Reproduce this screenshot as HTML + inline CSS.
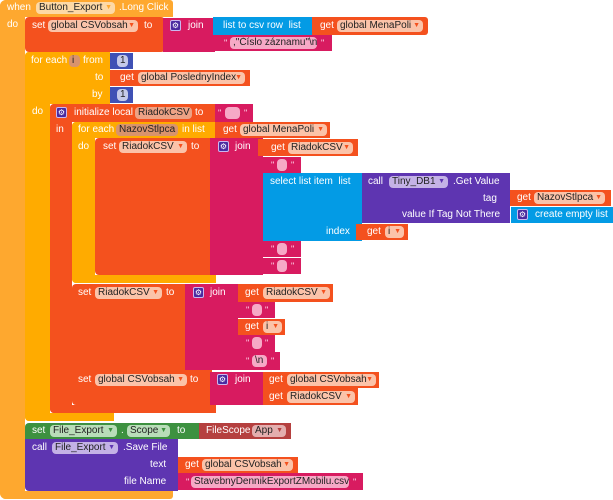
<!DOCTYPE html>
<html><head><meta charset="utf-8">
<style>
body{margin:0;width:613px;height:500px;background:#fff;position:relative;overflow:hidden;font-family:"Liberation Sans",Arial,sans-serif}
.b{position:absolute}
.t{position:absolute;color:#fff;font-size:10px;line-height:12px;white-space:nowrap}
.f{position:absolute;height:12px;border-radius:4px;color:#222;font-size:10px;line-height:12px;white-space:nowrap;box-sizing:border-box;padding-left:3px;overflow:hidden}
.v{background:#FBC3A9}
.a{position:absolute;right:3px;top:0;font-size:7px;line-height:12px}
.g{position:absolute;width:11px;height:11px;background:#4a2aa0;border:1px solid #c9b8f0;border-radius:2px;box-sizing:border-box;color:#fff;font-size:8px;line-height:9px;text-align:center}
.q{position:absolute;color:#fde;font-size:9px;line-height:10px}
.tf{background:#F6A9C6}
.EV{background:#FEA82F}
.CT{background:#FFAB00}
.VR{background:#F4511E}
.TX{background:#D81B60}
.LS{background:#039BE5}
.PU{background:#5E35B1}
.NU{background:#3F51B5}
</style></head><body>

<!-- when block -->
<div class="b EV" style="left:0;top:0;width:173px;height:17px;border-radius:6px 3px 0 0"></div>
<div class="b EV" style="left:0;top:0;width:25px;height:499px;border-radius:6px 0 0 6px"></div>
<div class="b EV" style="left:0;top:491px;width:173px;height:8px;border-radius:0 0 3px 6px"></div>

<!-- set global CSVobsah -->
<div class="b VR" style="left:25px;top:17px;width:140px;height:35px;border-radius:4px"></div>
<div class="b TX" style="left:163px;top:18px;width:52px;height:34px"></div>
<div class="b LS" style="left:213px;top:17px;width:99px;height:18px"></div>
<div class="b VR" style="left:312px;top:17px;width:116px;height:18px;border-radius:0 3px 3px 0"></div>
<div class="b TX" style="left:213px;top:35px;width:119px;height:16px"></div>

<!-- for each i -->
<div class="b CT" style="left:25px;top:52px;width:85px;height:52px;border-radius:4px 0 0 0"></div>
<div class="b CT" style="left:25px;top:52px;width:25px;height:369px;border-radius:4px 0 0 4px"></div>
<div class="b CT" style="left:25px;top:413px;width:89px;height:8px;border-radius:0 0 0 4px"></div>
<div class="b NU" style="left:110px;top:53px;width:23px;height:16px"></div>
<div class="b VR" style="left:110px;top:70px;width:140px;height:16px"></div>
<div class="b NU" style="left:110px;top:87px;width:23px;height:16px"></div>

<!-- initialize local -->
<div class="b VR" style="left:50px;top:104px;width:165px;height:18px;border-radius:4px 0 0 0"></div>
<div class="b VR" style="left:50px;top:104px;width:22px;height:309px;border-radius:4px 0 0 4px"></div>
<div class="b VR" style="left:50px;top:405px;width:166px;height:8px;border-radius:0 0 0 4px"></div>
<div class="b TX" style="left:215px;top:104px;width:38px;height:18px"></div>

<!-- for each NazovStlpca -->
<div class="b CT" style="left:72px;top:122px;width:143px;height:16px;border-radius:4px 0 0 0"></div>
<div class="b CT" style="left:72px;top:122px;width:23px;height:161px;border-radius:4px 0 0 4px"></div>
<div class="b CT" style="left:72px;top:275px;width:144px;height:8px;border-radius:0 0 0 4px"></div>
<div class="b VR" style="left:215px;top:122px;width:115px;height:16px"></div>

<!-- set RiadokCSV 1 -->
<div class="b VR" style="left:95px;top:138px;width:117px;height:137px;border-radius:4px 0 0 4px"></div>
<div class="b TX" style="left:210px;top:138px;width:53px;height:137px"></div>
<div class="b VR" style="left:258px;top:139px;width:100px;height:17px"></div>
<div class="b TX" style="left:263px;top:157px;width:38px;height:16px"></div>
<div class="b LS" style="left:263px;top:173px;width:99px;height:68px"></div>
<div class="b PU" style="left:362px;top:173px;width:148px;height:50px"></div>
<div class="b VR" style="left:510px;top:190px;width:101px;height:16px"></div>
<div class="b LS" style="left:511px;top:207px;width:102px;height:16px"></div>
<div class="b VR" style="left:356px;top:224px;width:52px;height:16px"></div>
<div class="b TX" style="left:263px;top:241px;width:38px;height:16px"></div>
<div class="b TX" style="left:263px;top:258px;width:38px;height:16px"></div>

<!-- set RiadokCSV 2 -->
<div class="b VR" style="left:72px;top:284px;width:115px;height:86px;border-radius:4px 0 0 0"></div>
<div class="b TX" style="left:185px;top:284px;width:53px;height:86px"></div>
<div class="b VR" style="left:238px;top:284px;width:95px;height:18px"></div>
<div class="b TX" style="left:238px;top:302px;width:37px;height:16px"></div>
<div class="b VR" style="left:238px;top:319px;width:47px;height:16px"></div>
<div class="b TX" style="left:238px;top:335px;width:37px;height:17px"></div>
<div class="b TX" style="left:238px;top:352px;width:42px;height:18px"></div>

<!-- set global CSVobsah 2 -->
<div class="b VR" style="left:72px;top:370px;width:140px;height:35px;border-radius:0 0 0 4px"></div>
<div class="b TX" style="left:210px;top:372px;width:53px;height:33px"></div>
<div class="b VR" style="left:263px;top:372px;width:116px;height:16px"></div>
<div class="b VR" style="left:263px;top:388px;width:95px;height:17px"></div>

<!-- File_Export -->
<div class="b" style="left:25px;top:423px;width:174px;height:16px;background:#3D9140;border-radius:4px 0 0 0"></div>
<div class="b" style="left:199px;top:423px;width:92px;height:16px;background:#B5403F"></div>
<div class="b PU" style="left:25px;top:439px;width:153px;height:52px;border-radius:0 0 0 4px"></div>
<div class="b VR" style="left:178px;top:457px;width:120px;height:16px"></div>
<div class="b TX" style="left:178px;top:473px;width:185px;height:17px"></div>

<!-- ===== labels ===== -->
<span class="t" style="left:7px;top:2px">when</span>
<div class="f" style="left:36px;top:2px;width:79px;background:#FDD9A6">Button_Export<span class="a" style="color:#FEA82F">▼</span></div>
<span class="t" style="left:119px;top:2px">.Long Click</span>
<span class="t" style="left:7px;top:19px">do</span>

<span class="t" style="left:32px;top:20px">set</span>
<div class="f v" style="left:48px;top:20px;width:90px">global CSVobsah<span class="a" style="color:#F4511E">▼</span></div>
<span class="t" style="left:144px;top:20px">to</span>
<div class="g" style="left:170px;top:20px">⚙</div>
<span class="t" style="left:188px;top:20px">join</span>
<span class="t" style="left:223px;top:20px">list to csv row&nbsp; list</span>
<span class="t" style="left:320px;top:20px">get</span>
<div class="f v" style="left:337px;top:20px;width:86px">global MenaPoli<span class="a" style="color:#F4511E">▼</span></div>
<span class="q" style="left:224px;top:38px">"</span>
<div class="f tf" style="left:230px;top:37px;width:87px">,"Číslo záznamu"\n</div>
<span class="q" style="left:321px;top:38px">"</span>

<span class="t" style="left:31px;top:55px">for each</span>
<div class="f" style="left:69px;top:55px;width:11px;background:#D9936D">i</div>
<span class="t" style="left:83px;top:55px">from</span>
<div class="f" style="left:117px;top:55px;width:11px;background:#C5CAE9">1</div>
<span class="t" style="left:95px;top:72px">to</span>
<span class="t" style="left:120px;top:72px">get</span>
<div class="f v" style="left:138px;top:72px;width:107px">global PoslednyIndex<span class="a" style="color:#F4511E">▼</span></div>
<span class="t" style="left:92px;top:89px">by</span>
<div class="f" style="left:117px;top:89px;width:11px;background:#C5CAE9">1</div>
<span class="t" style="left:32px;top:106px">do</span>

<div class="g" style="left:56px;top:107px">⚙</div>
<span class="t" style="left:74px;top:107px">initialize local</span>
<div class="f" style="left:135px;top:107px;width:57px;background:#EDA285">RiadokCSV</div>
<span class="t" style="left:195px;top:107px">to</span>
<span class="q" style="left:218px;top:108px">"</span>
<div class="f tf" style="left:225px;top:107px;width:15px"></div>
<span class="q" style="left:244px;top:108px">"</span>
<span class="t" style="left:56px;top:124px">in</span>

<span class="t" style="left:78px;top:124px">for each</span>
<div class="f" style="left:116px;top:124px;width:62px;background:#D9936D">NazovStlpca</div>
<span class="t" style="left:182px;top:124px">in list</span>
<span class="t" style="left:223px;top:124px">get</span>
<div class="f v" style="left:240px;top:124px;width:87px">global MenaPoli<span class="a" style="color:#F4511E">▼</span></div>
<span class="t" style="left:78px;top:141px">do</span>

<span class="t" style="left:103px;top:141px">set</span>
<div class="f v" style="left:119px;top:141px;width:68px">RiadokCSV<span class="a" style="color:#F4511E">▼</span></div>
<span class="t" style="left:191px;top:141px">to</span>
<div class="g" style="left:218px;top:141px">⚙</div>
<span class="t" style="left:235px;top:141px">join</span>
<span class="t" style="left:271px;top:142px">get</span>
<div class="f v" style="left:288px;top:142px;width:65px">RiadokCSV<span class="a" style="color:#F4511E">▼</span></div>

<span class="q" style="left:271px;top:160px">"</span>
<div class="f tf" style="left:277px;top:159px;width:10px"></div>
<span class="q" style="left:291px;top:160px">"</span>

<span class="t" style="left:270px;top:176px">select list item&nbsp; list</span>
<span class="t" style="left:368px;top:176px">call</span>
<div class="f" style="left:389px;top:176px;width:59px;background:#C4B2E6">Tiny_DB1<span class="a" style="color:#5E35B1">▼</span></div>
<span class="t" style="left:453px;top:176px">.Get Value</span>
<span class="t" style="left:483px;top:193px">tag</span>
<span class="t" style="left:517px;top:192px">get</span>
<div class="f v" style="left:534px;top:192px;width:71px">NazovStlpca<span class="a" style="color:#F4511E">▼</span></div>
<span class="t" style="left:402px;top:209px">value If Tag Not There</span>
<div class="g" style="left:517px;top:209px">⚙</div>
<span class="t" style="left:535px;top:209px">create empty list</span>
<span class="t" style="left:326px;top:226px">index</span>
<span class="t" style="left:367px;top:226px">get</span>
<div class="f v" style="left:385px;top:226px;width:19px">i<span class="a" style="color:#F4511E">▼</span></div>

<span class="q" style="left:271px;top:244px">"</span>
<div class="f tf" style="left:277px;top:243px;width:10px"></div>
<span class="q" style="left:291px;top:244px">"</span>
<span class="q" style="left:271px;top:261px">"</span>
<div class="f tf" style="left:277px;top:260px;width:10px"></div>
<span class="q" style="left:291px;top:261px">"</span>

<span class="t" style="left:78px;top:287px">set</span>
<div class="f v" style="left:95px;top:287px;width:67px">RiadokCSV<span class="a" style="color:#F4511E">▼</span></div>
<span class="t" style="left:166px;top:287px">to</span>
<div class="g" style="left:193px;top:287px">⚙</div>
<span class="t" style="left:210px;top:287px">join</span>
<span class="t" style="left:245px;top:287px">get</span>
<div class="f v" style="left:263px;top:287px;width:67px">RiadokCSV<span class="a" style="color:#F4511E">▼</span></div>

<span class="q" style="left:246px;top:305px">"</span>
<div class="f tf" style="left:252px;top:304px;width:10px"></div>
<span class="q" style="left:265px;top:305px">"</span>
<span class="t" style="left:245px;top:321px">get</span>
<div class="f v" style="left:263px;top:321px;width:19px">i<span class="a" style="color:#F4511E">▼</span></div>
<span class="q" style="left:246px;top:338px">"</span>
<div class="f tf" style="left:252px;top:337px;width:10px"></div>
<span class="q" style="left:265px;top:338px">"</span>
<span class="q" style="left:246px;top:356px">"</span>
<div class="f tf" style="left:252px;top:355px;width:15px">\n</div>
<span class="q" style="left:271px;top:356px">"</span>

<span class="t" style="left:78px;top:374px">set</span>
<div class="f v" style="left:95px;top:374px;width:92px">global CSVobsah<span class="a" style="color:#F4511E">▼</span></div>
<span class="t" style="left:190px;top:374px">to</span>
<div class="g" style="left:217px;top:374px">⚙</div>
<span class="t" style="left:235px;top:374px">join</span>
<span class="t" style="left:269px;top:374px">get</span>
<div class="f v" style="left:287px;top:374px;width:89px">global CSVobsah<span class="a" style="color:#F4511E">▼</span></div>
<span class="t" style="left:269px;top:391px">get</span>
<div class="f v" style="left:287px;top:391px;width:68px">RiadokCSV<span class="a" style="color:#F4511E">▼</span></div>

<span class="t" style="left:32px;top:425px">set</span>
<div class="f" style="left:50px;top:425px;width:67px;background:#B9DDB9">File_Export<span class="a" style="color:#3D9140">▼</span></div>
<span class="t" style="left:121px;top:425px">.</span>
<div class="f" style="left:127px;top:425px;width:43px;background:#B9DDB9">Scope<span class="a" style="color:#3D9140">▼</span></div>
<span class="t" style="left:177px;top:425px">to</span>
<span class="t" style="left:206px;top:425px">FileScope</span>
<div class="f" style="left:252px;top:425px;width:34px;background:#E3AEAE">App<span class="a" style="color:#B5403F">▼</span></div>

<span class="t" style="left:32px;top:442px">call</span>
<div class="f" style="left:52px;top:442px;width:66px;background:#C4B2E6">File_Export<span class="a" style="color:#5E35B1">▼</span></div>
<span class="t" style="left:123px;top:442px">.Save File</span>
<span class="t" style="left:150px;top:459px">text</span>
<span class="t" style="left:185px;top:459px">get</span>
<div class="f v" style="left:202px;top:459px;width:91px">global CSVobsah<span class="a" style="color:#F4511E">▼</span></div>
<span class="t" style="left:124px;top:476px">file Name</span>
<span class="q" style="left:186px;top:477px">"</span>
<div class="f tf" style="left:191px;top:476px;width:158px">StavebnyDennikExportZMobilu.csv</div>
<span class="q" style="left:353px;top:477px">"</span>

</body></html>
